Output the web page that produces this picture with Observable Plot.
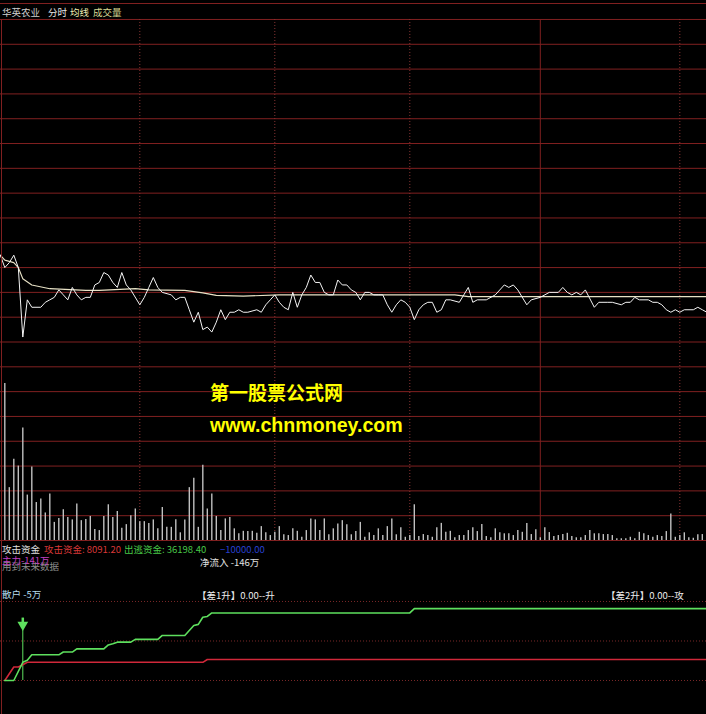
<!DOCTYPE html>
<html lang="zh">
<head>
<meta charset="utf-8">
<script src="https://cdn.jsdelivr.net/npm/d3@7"></script>
<script src="https://cdn.jsdelivr.net/npm/@observablehq/plot@0.6"></script>
<style>
  html, body { margin: 0; padding: 0; background: #000; }
  #chart { position: relative; width: 706px; height: 714px; background: #000; overflow: hidden;
           font-family: "Noto Sans CJK SC", "Noto Sans", sans-serif; }
  #chart svg { position: absolute; left: 0; background: transparent; }
  .t { position: absolute; white-space: nowrap; font-size: 9.5px; line-height: 10px; }
  .wm { position: absolute; white-space: nowrap; color: #ffff00; font-weight: bold; line-height: 20px; }
  .hline { position: absolute; left: 0; width: 706px; height: 1px; background: #802020; }
  .vline { position: absolute; left: 1px; width: 1px; background: #802020; }
</style>
</head>
<body>
<div id="chart"></div>
<script>
// ---- intraday data (minute index 0 = first minute after the 9:30 open, -1 = auction) ----
const priceMinutes = [-1,0,1,2,3,4,5,6,8,9,10,11,12,13,14,15,16,17,18,19,20,21,22,23,24,25,26,27,28,30,
  31,32,33,34,35,37,38,39,40,41,42,43,44,45,46,47,48,49,50,51,52,53,54,56,57,58,59,60,61,62,
  63,64,65,66,67,68,69,70,71,72,73,74,75,76,77,78,79,80,81,82,83,84,85,86,87,88,89,90,91,92,
  93,94,95,96,97,98,99,101,102,103,104,105,107,109,111,112,113,114,116,117,119,121,123,124,125,126,127,128,129,131,
  132,134,135,137,138,139,140,141,143,144,145,146,147,148,149,150,151,153,154,155,156];
const priceValues = [9.65,9.60,9.62,9.65,9.60,9.32,9.47,9.44,9.44,9.46,9.47,9.48,9.51,9.49,9.47,9.52,9.49,9.47,9.48,9.48,9.53,9.54,9.58,9.57,9.54,9.52,9.58,9.53,9.51,9.45,
  9.48,9.52,9.56,9.52,9.50,9.49,9.47,9.48,9.48,9.43,9.38,9.42,9.35,9.36,9.34,9.38,9.43,9.39,9.42,9.42,9.43,9.42,9.42,9.43,9.42,9.45,9.47,9.49,9.46,9.44,
  9.43,9.50,9.44,9.49,9.52,9.57,9.54,9.54,9.50,9.49,9.49,9.55,9.53,9.53,9.51,9.50,9.47,9.50,9.50,9.49,9.49,9.49,9.45,9.42,9.45,9.47,9.46,9.44,9.39,9.43,
  9.45,9.46,9.46,9.42,9.43,9.47,9.47,9.46,9.49,9.52,9.46,9.47,9.47,9.49,9.53,9.52,9.53,9.51,9.45,9.47,9.48,9.50,9.50,9.52,9.50,9.49,9.50,9.49,9.51,9.44,
  9.46,9.46,9.46,9.45,9.46,9.46,9.48,9.47,9.47,9.46,9.46,9.45,9.43,9.42,9.43,9.42,9.43,9.43,9.44,9.43,9.42];

const avgMinutes = [-1,0,2,3,4,6,10,18,21,29,32,40,44,47,53,61,100,103,156];
const avgValues  = [9.65,9.63,9.62,9.60,9.555,9.53,9.515,9.508,9.508,9.515,9.51,9.508,9.498,9.488,9.485,9.49,9.49,9.483,9.483];

// volume per minute, in lots, minutes 0..156
const volume = [6330,2130,3270,3000,4530,1830,2960,1530,1670,1110,
  1870,730,890,1240,930,830,1470,800,850,970,
  440,400,970,1440,930,1170,490,640,1000,1270,
  760,760,690,830,470,1330,530,530,840,310,
  830,2130,2510,530,3030,1270,1870,970,400,870,
  930,470,270,370,360,370,290,560,310,200,
  330,560,230,200,470,370,130,400,870,830,
  400,870,230,470,670,800,630,230,360,730,
  130,310,200,470,200,560,870,230,510,130,
  200,1440,160,240,200,130,510,690,330,370,
  110,200,200,400,510,360,640,160,110,470,
  310,270,270,200,400,330,690,240,430,110,
  510,320,160,200,240,290,160,110,110,200,
  400,270,270,240,240,200,70,70,70,130,
  70,330,270,200,130,200,160,360,1070,130,
  200,310,110,90,230,240,270];

// fund-flow indicator lines
const greenMinutes = [0,2,4,5,6,12,13,15,16,22,23,24,25,28,29,34,35,40,42,43,44,45,46,90,91,156];
const greenValues  = [0,0,46,51,65,65,72,72,80,80,90,93,97,97,104,104,114,114,139,142,160,162,171,171,182,182];
const redMinutes   = [0,2,3,4,5,44,45,156];
const redValues    = [0,34,34,40,46,46,53,53];
const signalMinutes = [4];

// indicator readouts
const attackFunds = 8091.20, escapeFunds = 36198.40, refLevel = -10000.00;
const mainForce = -141, netInflow = -146, retail = -5;
const diff1 = 0.00, diff2 = 0.00;

// time grid (half-hour marks, midday break) and value grids
const halfHourMarks = [30, 60, 90, 150];
const middayBreak = [119];
const priceGrid = d3.range(930, 1061, 10).map(d => d / 100);
const volumeGrid = d3.range(0, 7001, 1000);
const indicatorGrid = [0, 100, 200];

// ---- drawing ----
const W = 706;
const xDomain = [-0.956, 155.93];
const priceDomain = [9.2698, 10.6765];
const volDomain = [0, 7698];
const indDomain = [-86.1, 227.8];
const gridRed = "#802020", dotRed = "#8a3434";
const green = "#5ee05e", red = "#d0283a";

const priceData = priceMinutes.map((t, i) => ({t, p: priceValues[i]}));
const avgData = avgMinutes.map((t, i) => ({t, p: avgValues[i]}));
const volData = volume.map((v, t) => ({t, v}));
const greenData = greenMinutes.map((t, i) => ({t, v: greenValues[i]}));
const redData = redMinutes.map((t, i) => ({t, v: redValues[i]}));

const chart = document.getElementById("chart");

const pricePlot = Plot.plot({
  width: W, height: 349, margin: 0,
  x: {domain: xDomain, axis: null},
  y: {domain: priceDomain, axis: null},
  style: {background: "transparent"},
  marks: [
    Plot.ruleY(priceGrid, {stroke: gridRed}),
    Plot.ruleX(halfHourMarks, {y1: priceGrid[priceGrid.length - 1], y2: priceDomain[0], stroke: dotRed, strokeDasharray: "1,2"}),
    Plot.ruleX(middayBreak, {y1: priceGrid[priceGrid.length - 1], y2: priceDomain[0], stroke: gridRed}),
    Plot.line(avgData, {x: "t", y: "p", stroke: "#e8e2c6", strokeWidth: 1.1, clip: true}),
    Plot.line(priceData, {x: "t", y: "p", stroke: "#f4f4f4", strokeWidth: 1, clip: true})
  ]
});
pricePlot.style.top = "0px";
chart.appendChild(pricePlot);

const volPlot = Plot.plot({
  width: W, height: 192, marginTop: 0, marginLeft: 0, marginRight: 0, marginBottom: 1,
  x: {domain: xDomain, axis: null},
  y: {domain: volDomain, axis: null},
  style: {background: "transparent"},
  marks: [
    Plot.ruleY(volumeGrid, {stroke: gridRed}),
    Plot.ruleX(halfHourMarks, {y1: volDomain[0], y2: volDomain[1], stroke: dotRed, strokeDasharray: "1,2"}),
    Plot.ruleX(middayBreak, {y1: volDomain[0], y2: volDomain[1], stroke: gridRed}),
    Plot.ruleX(volData, {x: "t", y1: 0, y2: "v", stroke: "#c0c0c0", strokeWidth: 1.4, clip: true})
  ]
});
volPlot.style.top = "349px";
chart.appendChild(volPlot);

const indPlot = Plot.plot({
  width: W, height: 124, margin: 0,
  x: {domain: xDomain, axis: null},
  y: {domain: indDomain, axis: null},
  style: {background: "transparent"},
  marks: [
    Plot.ruleY(indicatorGrid, {stroke: "#7a2828", strokeDasharray: "1,2"}),
    Plot.ruleX(signalMinutes, {y1: 0, y2: 157, stroke: green, strokeWidth: 1}),
    Plot.ruleX(signalMinutes, {y1: 143, y2: 158, stroke: green, strokeWidth: 2.5}),
    Plot.dot(signalMinutes, {x: d => d, y: 141, symbol: "triangle", rotate: 180, r: 4, fill: green, stroke: null}),
    Plot.line(redData, {x: "t", y: "v", stroke: red, strokeWidth: 1.6}),
    Plot.line(greenData, {x: "t", y: "v", stroke: green, strokeWidth: 1.6})
  ]
});
indPlot.style.top = "590px";
chart.appendChild(indPlot);

// frame lines
function addDiv(cls, css) {
  const d = document.createElement("div");
  d.className = cls;
  Object.assign(d.style, css);
  chart.appendChild(d);
  return d;
}
addDiv("hline", {top: "3px"});
addDiv("vline", {top: "19px", height: "695px"});

// text
function addText(text, color, left, top, cls = "t", extra = {}) {
  const d = addDiv(cls, Object.assign({left: left + "px", top: top + "px", color}, extra));
  d.textContent = text;
  return d;
}
const fmt2 = d3.format(".2f");
addText("华英农业", "#d0d0d0", 2, 7);
addText("分时", "#e6e6e6", 48, 7);
addText("均线", "#eeeeb4", 70, 7);
addText("成交量", "#d8d894", 93, 7);

addText("攻击资金", "#e0e0e0", 2, 544);
addText("攻击资金: " + fmt2(attackFunds), "#d83838", 44, 544);
addText("出逃资金: " + fmt2(escapeFunds), "#48c848", 124, 544);
addText(fmt2(refLevel), "#2840d0", 220, 544);

// the warning line and the main-force readout share a row and overprint each other
addText("用到未来数据", "#8c8c8c", 2, 561);
addText("主力" + mainForce + "万", "#c040c0", 2, 555);
addText("净流入 " + netInflow + "万", "#e0e0e0", 200, 557);

addText("散户 " + retail + "万", "#b4dcec", 2, 589);
addText("【差1升】" + fmt2(diff1) + "--升", "#ececec", 197, 590);
addText("【差2升】" + fmt2(diff2) + "--攻", "#ececec", 606, 590);

addText("第一股票公式网", "#ffff00", 210, 382, "wm", {fontSize: "19px"});
addText("www.chnmoney.com", "#ffff00", 210, 415, "wm", {fontSize: "19.6px", fontFamily: "'Liberation Sans', Arial, sans-serif"});
</script>
</body>
</html>
